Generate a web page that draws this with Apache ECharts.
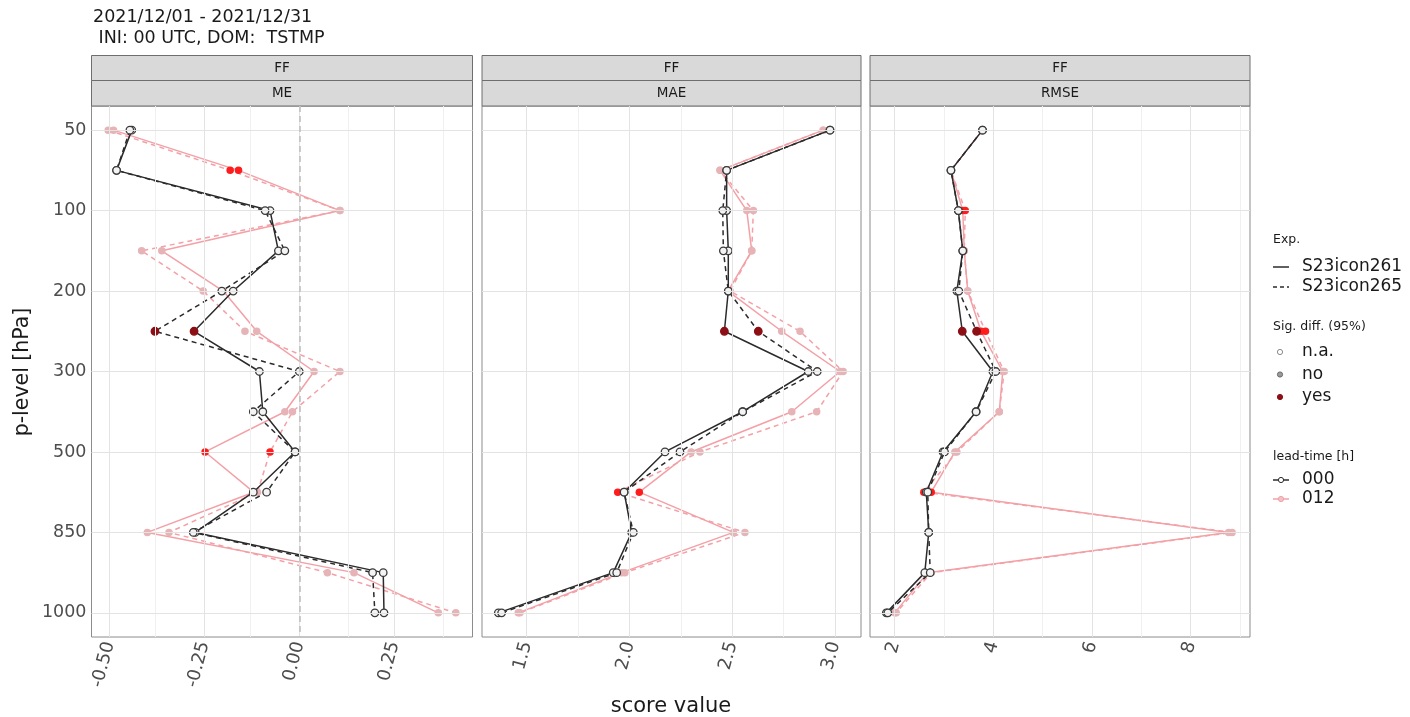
<!DOCTYPE html>
<html>
<head>
<meta charset="utf-8">
<script src="https://cdn.jsdelivr.net/npm/echarts@6/dist/echarts.min.js"></script>
<style>
html,body{margin:0;padding:0;background:#fff;}
#chart{width:1410px;height:717px;}
</style>
</head>
<body>
<div id="chart"></div>
<script>
// ---------------- data ----------------
const levels = [50, 70, 100, 150, 200, 250, 300, 400, 500, 700, 850, 925, 1000];
const levelTicks = [50, 100, 200, 300, 500, 850, 1000];
const panelNames = ['ME', 'MAE', 'RMSE'];
const stripName = 'FF';
const experiments = ['S23icon261', 'S23icon265'];
const leadTimes = ['000', '012'];
const sigNames = ['n.a.', 'no', 'yes'];

// x-axis ticks (major = labelled, minor = grid only)
const meTicks = [-0.5, -0.25, 0, 0.25];
const meMinor = [-0.375, -0.125, 0.125, 0.375];
const maeTicks = [1.5, 2.0, 2.5, 3.0];
const maeMinor = [1.75, 2.25, 2.75];
const rmseTicks = [2, 4, 6, 8];
const rmseMinor = [3, 5, 7, 9];

// ME values (index order = levels)
const me_261_000 = [-0.441, -0.481, -0.077, -0.055, -0.174, -0.277, -0.105, -0.096, -0.011, -0.121, -0.274, 0.221, 0.223];
const me_265_000 = [-0.446, -0.481, -0.090, -0.038, -0.204, -0.380, 0.000, -0.121, -0.011, -0.086, -0.279, 0.193, 0.199];
const me_261_012 = [-0.489, -0.160, 0.107, -0.362, -0.200, -0.112, 0.039, -0.038, -0.248, -0.120, -0.400, 0.144, 0.366];
const me_265_012 = [-0.503, -0.182, 0.107, -0.415, -0.253, -0.143, 0.107, -0.018, -0.077, -0.110, -0.343, 0.074, 0.412];
// MAE values
const mae_261_000 = [2.976, 2.473, 2.473, 2.481, 2.481, 2.462, 2.870, 2.551, 2.173, 1.974, 2.011, 1.921, 1.362];
const mae_265_000 = [2.976, 2.473, 2.454, 2.457, 2.481, 2.627, 2.914, 2.551, 2.246, 1.974, 2.019, 1.938, 1.378];
const mae_261_012 = [2.943, 2.441, 2.571, 2.595, 2.480, 2.741, 3.025, 2.790, 2.300, 2.048, 2.506, 1.962, 1.459];
const mae_265_012 = [2.943, 2.441, 2.603, 2.595, 2.490, 2.830, 3.040, 2.911, 2.343, 1.943, 2.562, 1.978, 1.467];
// RMSE values
const rmse_261_000 = [3.78, 3.14, 3.29, 3.38, 3.26, 3.37, 3.99, 3.65, 2.98, 2.64, 2.69, 2.61, 1.83];
const rmse_265_000 = [3.78, 3.14, 3.29, 3.38, 3.30, 3.66, 4.05, 3.65, 3.01, 2.67, 2.69, 2.72, 1.86];
const rmse_261_012 = [3.78, 3.14, 3.38, 3.41, 3.48, 3.75, 4.19, 4.12, 3.22, 2.74, 8.77, 2.67, 2.00];
const rmse_265_012 = [3.78, 3.14, 3.43, 3.41, 3.48, 3.84, 4.22, 4.12, 3.26, 2.59, 8.84, 2.74, 2.03];

// significance per point: 0 = n.a., 1 = no, 2 = yes
const sig_me_000   = [0,0,0,0,0,2,0,0,0,0,0,0,0];
const sig_me_012   = [1,2,1,1,1,1,1,1,2,1,1,1,1];
const sig_mae_000  = [0,0,0,0,0,2,0,0,0,0,0,0,0];
const sig_mae_012  = [1,1,1,1,1,1,1,1,1,2,1,1,1];
const sig_rmse_000 = [0,0,0,0,0,2,0,0,0,0,0,0,0];
const sig_rmse_012 = [1,1,2,1,1,2,1,1,1,2,1,1,1];

// ---------------- styling / layout ----------------
const FONT = 'DejaVu Sans';
const grids = [
  {left: 91.5, top: 106, width: 381, height: 531},
  {left: 482, top: 106, width: 379, height: 531},
  {left: 870, top: 106, width: 380, height: 531}
];
const xRanges = [[-0.547, 0.456], [1.2825, 3.1268], [1.499, 9.203]];
const lineColor = {'000': '#2b2b2b', '012': '#f3a0a6'};
const pointFill = {
  '000': ['#f4f4f4', '#9a9a9a', '#8b0f14'],
  '012': ['#ffffff', '#e6b3b6', '#ff1c1c']
};

const panelData = [
  {ticks: meTicks, minor: meMinor, fmt: v => v.toFixed(2),
   s: [[me_261_000, sig_me_000], [me_265_000, sig_me_000], [me_261_012, sig_me_012], [me_265_012, sig_me_012]]},
  {ticks: maeTicks, minor: maeMinor, fmt: v => v.toFixed(1),
   s: [[mae_261_000, sig_mae_000], [mae_265_000, sig_mae_000], [mae_261_012, sig_mae_012], [mae_265_012, sig_mae_012]]},
  {ticks: rmseTicks, minor: rmseMinor, fmt: v => String(Math.round(v)),
   s: [[rmse_261_000, sig_rmse_000], [rmse_265_000, sig_rmse_000], [rmse_261_012, sig_rmse_012], [rmse_265_012, sig_rmse_012]]}
];
const seriesMeta = [
  {exp: 0, lead: '000'}, {exp: 1, lead: '000'}, {exp: 0, lead: '012'}, {exp: 1, lead: '012'}
];

const tickIdx = levelTicks.map(l => levels.indexOf(l));

const xAxes = [], yAxes = [], series = [];
panelData.forEach((p, gi) => {
  xAxes.push({
    type: 'value', gridIndex: gi, min: xRanges[gi][0], max: xRanges[gi][1],
    splitLine: {show: false}, axisLine: {show: false},
    axisTick: {show: true, customValues: p.ticks, length: 4, lineStyle: {color: '#555', width: 1}},
    axisLabel: {customValues: p.ticks, rotate: 75, formatter: p.fmt, fontSize: 18,
                color: '#4d4d4d', fontFamily: FONT, margin: 5}
  });
  yAxes.push({
    type: 'value', gridIndex: gi, inverse: true, min: -0.6, max: 12.6,
    splitLine: {show: false}, axisLine: {show: false},
    axisTick: {show: gi === 0, customValues: tickIdx, length: 4, lineStyle: {color: '#555', width: 1}},
    axisLabel: {show: gi === 0, customValues: tickIdx, formatter: v => String(levels[Math.round(v)]),
                fontSize: 17.5, color: '#4d4d4d', fontFamily: FONT, margin: 5}
  });
  // grid lines via markLine
  const ml = [];
  p.minor.forEach(v => ml.push({xAxis: v, lineStyle: {color: '#f0f0f0', width: 1, type: 'solid'}}));
  p.ticks.forEach(v => ml.push({xAxis: v, lineStyle: {color: '#e3e3e3', width: 1, type: 'solid'}}));
  tickIdx.forEach(v => ml.push({yAxis: v, lineStyle: {color: '#e3e3e3', width: 1, type: 'solid'}}));
  if (gi === 0) ml.push({xAxis: 0, lineStyle: {color: '#bdbdbd', width: 1.5, type: [6, 4]}});
  series.push({
    type: 'line', xAxisIndex: gi, yAxisIndex: gi, data: [], z: 1, silent: true,
    markLine: {silent: true, symbol: ['none', 'none'], label: {show: false}, animation: false, data: ml}
  });
  // data series: pink (012) first, then black
  [2, 3, 0, 1].forEach(si => {
    const meta = seriesMeta[si];
    const vals = p.s[si][0], sig = p.s[si][1];
    series.push({
      type: 'line', xAxisIndex: gi, yAxisIndex: gi,
      name: experiments[meta.exp] + ' ' + meta.lead,
      z: meta.lead === '000' ? 4 : 3,
      symbol: 'circle', symbolSize: 7.5, animation: false,
      lineStyle: {color: lineColor[meta.lead], width: 1.5, type: meta.exp === 0 ? 'solid' : [5, 4]},
      data: vals.map((v, i) => {
        const s = sig[i];
        return {
          value: [v, i],
          itemStyle: {
            color: pointFill[meta.lead][s],
            borderColor: meta.lead === '000' ? (s === 2 ? '#8b0f14' : '#3a3a3a') : pointFill[meta.lead][s],
            borderWidth: meta.lead === '000' ? 1.3 : 0,
            opacity: 1
          }
        };
      })
    });
  });
});

// ---------------- graphics: title, strips, axis titles, legend ----------------
const graphic = [];
graphic.push({type: 'text', left: 93, top: 8, style: {text: '2021/12/01 - 2021/12/31', font: '17.5px "DejaVu Sans"', fill: '#1a1a1a'}});
graphic.push({type: 'text', left: 93, top: 29, style: {text: ' INI: 00 UTC, DOM:  TSTMP', font: '17.5px "DejaVu Sans"', fill: '#1a1a1a'}});
grids.forEach((g, gi) => {
  graphic.push({type: 'rect', shape: {x: g.left, y: 55.5, width: g.width, height: 25},
    style: {fill: '#d9d9d9', stroke: '#6e6e6e', lineWidth: 1}});
  graphic.push({type: 'rect', shape: {x: g.left, y: 80.5, width: g.width, height: 25.5},
    style: {fill: '#d9d9d9', stroke: '#6e6e6e', lineWidth: 1}});
  graphic.push({type: 'text', x: g.left + g.width / 2, y: 68, style: {text: stripName, font: '13.5px "DejaVu Sans"', fill: '#1a1a1a', align: 'center', verticalAlign: 'middle'}});
  graphic.push({type: 'text', x: g.left + g.width / 2, y: 93.5, style: {text: panelNames[gi], font: '13.5px "DejaVu Sans"', fill: '#1a1a1a', align: 'center', verticalAlign: 'middle'}});
});
graphic.push({type: 'text', x: 671, y: 707, style: {text: 'score value', font: '21px "DejaVu Sans"', fill: '#1a1a1a', align: 'center', verticalAlign: 'middle'}});
graphic.push({type: 'text', x: 23, y: 372, rotation: Math.PI / 2, style: {text: 'p-level [hPa]', font: '20.5px "DejaVu Sans"', fill: '#1a1a1a', align: 'center', verticalAlign: 'middle'}});

// legend
const LX = 1273, LT = 1302;
const legFontT = '12.5px "DejaVu Sans"', legFont = '17px "DejaVu Sans"';
graphic.push({type: 'text', x: LX, y: 240, style: {text: 'Exp.', font: legFontT, fill: '#1a1a1a', verticalAlign: 'middle'}});
experiments.forEach((e, i) => {
  const y = 267 + i * 20;
  graphic.push({type: 'line', shape: {x1: LX, y1: y, x2: LX + 16, y2: y}, style: {stroke: '#2b2b2b', lineWidth: 1.5, lineDash: i === 0 ? null : [4, 3]}});
  graphic.push({type: 'text', x: LT, y: y, style: {text: e, font: legFont, fill: '#1a1a1a', verticalAlign: 'middle'}});
});
graphic.push({type: 'text', x: LX, y: 327, style: {text: 'Sig. diff. (95%)', font: legFontT, fill: '#1a1a1a', verticalAlign: 'middle'}});
const legSigFill = ['#ffffff', '#9a9a9a', '#8b0f14'];
const legSigStroke = ['#8a8a8a', '#6a6a6a', '#8b0f14'];
sigNames.forEach((s, i) => {
  const y = 352 + i * 22.5;
  graphic.push({type: 'circle', shape: {cx: LX + 7, cy: y, r: 2.6}, style: {fill: legSigFill[i], stroke: legSigStroke[i], lineWidth: 1}});
  graphic.push({type: 'text', x: LT, y: y, style: {text: s, font: legFont, fill: '#1a1a1a', verticalAlign: 'middle'}});
});
graphic.push({type: 'text', x: LX, y: 457, style: {text: 'lead-time [h]', font: legFontT, fill: '#1a1a1a', verticalAlign: 'middle'}});
leadTimes.forEach((l, i) => {
  const y = 480 + i * 19;
  graphic.push({type: 'line', shape: {x1: LX, y1: y, x2: LX + 16, y2: y}, style: {stroke: lineColor[l], lineWidth: 1.5}});
  graphic.push({type: 'circle', shape: {cx: LX + 8, cy: y, r: 2.6}, style: {fill: i === 0 ? '#ffffff' : '#f3c2c6', stroke: lineColor[l], lineWidth: 1}});
  graphic.push({type: 'text', x: LT, y: y, style: {text: l, font: legFont, fill: '#1a1a1a', verticalAlign: 'middle'}});
});

const chart = echarts.init(document.getElementById('chart'), null, {renderer: 'canvas'});
chart.setOption({
  animation: false,
  backgroundColor: '#ffffff',
  grid: grids.map(g => Object.assign({show: true, borderColor: '#8c8c8c', borderWidth: 1, backgroundColor: 'transparent', containLabel: false}, g)),
  xAxis: xAxes,
  yAxis: yAxes,
  series: series,
  graphic: graphic
});
</script>
</body>
</html>
